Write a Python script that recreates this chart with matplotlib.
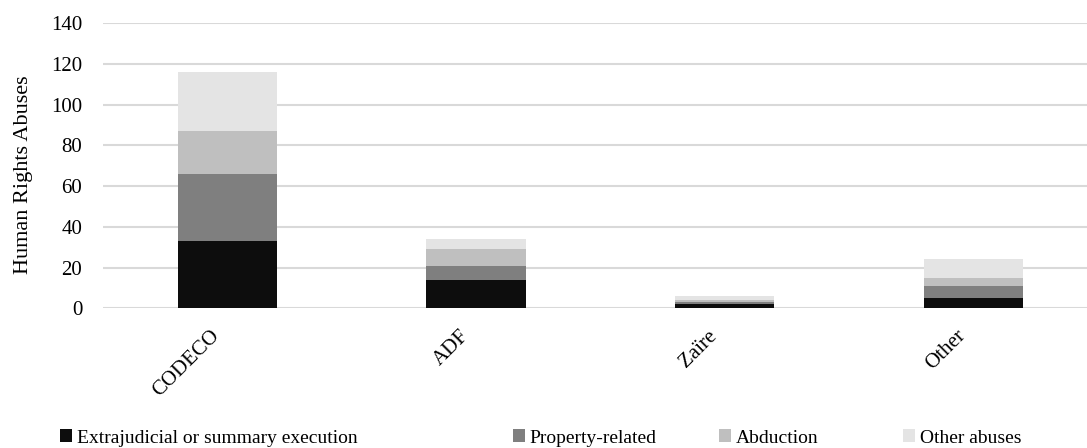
import matplotlib.pyplot as plt
import matplotlib.transforms as mtransforms
import numpy as np

plt.rcParams['font.family'] = ['Liberation Serif', 'DejaVu Serif']

# Data
groups = ['CODECO', 'ADF', 'Zaïre', 'Other']
execution = [33, 14, 2, 5]
property_rel = [33, 7, 1, 6]
abduction = [21, 8, 1, 4]
other_abuses = [29, 5, 2, 9]

series = [
    ('Extrajudicial or summary execution', execution, '#0d0d0d'),
    ('Property-related', property_rel, '#7f7f7f'),
    ('Abduction', abduction, '#bfbfbf'),
    ('Other abuses', other_abuses, '#e4e4e4'),
]

W, H = 1087, 448
fig = plt.figure(figsize=(W / 100, H / 100), dpi=100)
ax = fig.add_axes([103 / W, 1 - 308.3 / H, (W - 103) / W, (308.3 - 23.3) / H])

x = np.arange(len(groups))
bottom = np.zeros(len(groups))
bars = []
for label, vals, color in series:
    b = ax.bar(x, vals, width=0.4, bottom=bottom, color=color, label=label, zorder=3)
    bars.append(b)
    bottom += np.array(vals)

ax.set_ylim(0, 140)
ax.set_yticks(range(0, 141, 20))
ax.set_xlim(-0.5, -0.5 + (W - 103) / 248.7)
ax.grid(axis='y', color='#d9d9d9', linewidth=1.5, zorder=0)
for s in ax.spines.values():
    s.set_visible(False)
ax.tick_params(axis='y', length=0, labelsize=15, pad=15)
ax.tick_params(axis='x', length=0, labelsize=15, pad=13)
ax.set_xticks(x)
ax.set_xticklabels(groups, rotation=45, ha='right', rotation_mode='anchor')
shift = mtransforms.ScaledTranslation(-0.17, 0, fig.dpi_scale_trans)
for t in ax.get_xticklabels():
    t.set_transform(t.get_transform() + shift)

ax.set_ylabel('Human Rights Abuses', fontsize=16)
ax.yaxis.set_label_coords(-0.071, 0.47)

# legend entries placed individually like the original
leg_x = [60, 513, 719, 903]
for b, (label, _, _), lx in zip(bars, series, leg_x):
    fig.legend([b], [label], loc='center left', bbox_to_anchor=(lx / W, 1 - 438 / H),
               frameon=False, fontsize=14, handlelength=0.6, handleheight=0.6,
               handletextpad=0.25, borderpad=0, borderaxespad=0)

fig.savefig('out.png', dpi=100)
